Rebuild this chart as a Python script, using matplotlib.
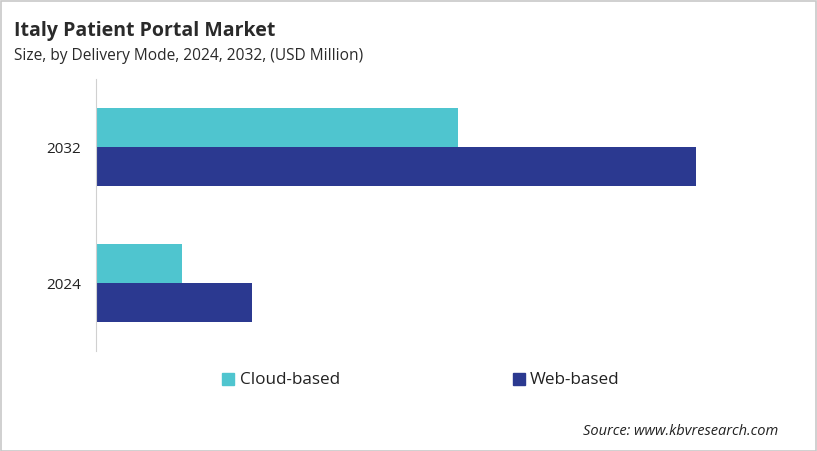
import matplotlib
matplotlib.use("Agg")
import matplotlib.pyplot as plt
from matplotlib.patches import Rectangle

years = ["2024", "2032"]
cloud = [8.6, 36.2]
web = [15.6, 60.0]
series_names = ["Cloud-based", "Web-based"]
colors = ["#4FC5CF", "#2B3990"]

plt.rcParams['font.family'] = ['Open Sans', 'DejaVu Sans']

fig = plt.figure(figsize=(8.17, 4.52), dpi=100)
ax = fig.add_axes([96/817, 1-352/452, 684/817, 272/452])

h = 0.285
y = list(range(len(years)))
ax.barh([v + h/2 for v in y], cloud, height=h, color=colors[0])
ax.barh([v - h/2 for v in y], web, height=h, color=colors[1])
ax.set_ylim(-0.5, 1.5)
ax.set_xlim(0, 68.4)
ax.set_yticks(y)
ax.set_yticklabels(years, fontsize=11, color="#222222")
ax.tick_params(axis='y', length=0, pad=11)
ax.set_xticks([])
for s in ["top", "right", "bottom"]:
    ax.spines[s].set_visible(False)
ax.spines["left"].set_color("#D0D0D0")

fig.text(14/817, 1-31/452, "Italy Patient Portal Market", fontsize=14, fontweight="bold",
         color="#2A2A2A", va="center", ha="left")
fig.text(14/817, 1-56/452, "Size, by Delivery Mode, 2024, 2032, (USD Million)", fontsize=11.2,
         color="#2A2A2A", va="center", ha="left")

# legend
for xm, xt, name, c in [(222, 240, series_names[0], colors[0]), (513, 530, series_names[1], colors[1])]:
    fig.patches.append(Rectangle((xm/817, 1-386/452), 12/817, 12/452, transform=fig.transFigure,
                                 color=c, figure=fig))
    fig.text(xt/817, 1-380/452, name, fontsize=12.3, color="#222222", va="center", ha="left")

fig.text(778/817, 1-432/452, "Source: www.kbvresearch.com", fontsize=10.5, style="italic",
         color="#222222", va="center", ha="right")

fig.patches.append(Rectangle((0.5/817, 0.5/452), 1-2/817, 1-2/452, transform=fig.transFigure,
                             fill=False, edgecolor="#C8C8C8", linewidth=1.2, figure=fig))

fig.savefig("out.png", dpi=100)
